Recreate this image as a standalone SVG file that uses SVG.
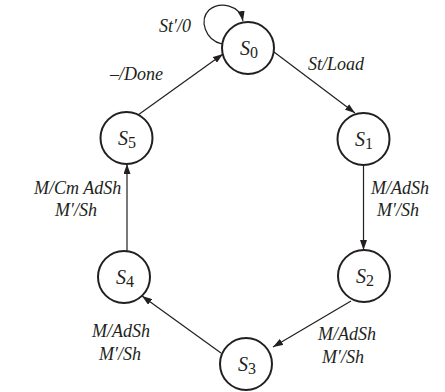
<svg xmlns="http://www.w3.org/2000/svg" width="445" height="392" viewBox="0 0 445 392">
<style>
.node circle{fill:#fff;stroke:#231f20;stroke-width:2}
.nm{font-family:"Liberation Serif",serif;font-size:20px;fill:#231f20}
.nm .s{font-style:italic}
.nm .sub{font-size:16px}
.edge{fill:none;stroke:#231f20;stroke-width:1.2}
.lbl{font-family:"Liberation Serif",serif;font-style:italic;font-size:18px;fill:#231f20}
</style>
<defs>
<marker id="ah" markerUnits="userSpaceOnUse" markerWidth="10" markerHeight="7" refX="10" refY="3.5" orient="auto">
<path d="M0,0 L10,3.5 L0,7 z" fill="#231f20"/>
</marker>
</defs>
<g id="connectors">
<path class="edge" d="M222,44 C205,40 199,20 209,10 C220,1 240,5 243,21" marker-end="url(#ah)"/>
<line class="edge" x1="274" y1="52" x2="355" y2="113" marker-end="url(#ah)"/>
<line class="edge" x1="363.5" y1="165" x2="363.5" y2="250" marker-end="url(#ah)"/>
<line class="edge" x1="351" y1="301" x2="273" y2="347" marker-end="url(#ah)"/>
<line class="edge" x1="221" y1="353" x2="142" y2="296" marker-end="url(#ah)"/>
<line class="edge" x1="127" y1="251" x2="127" y2="164" marker-end="url(#ah)"/>
<line class="edge" x1="138" y1="115" x2="223" y2="54" marker-end="url(#ah)"/>
</g>
<g id="labels">
<text class="lbl" x="159" y="32">St′/0</text>
<text class="lbl" x="308" y="70">St/Load</text>
<text class="lbl" x="110" y="80">–/Done</text>
<text class="lbl" x="371" y="194">M/AdSh</text>
<text class="lbl" x="377" y="216">M′/Sh</text>
<text class="lbl" x="34" y="194">M/Cm AdSh</text>
<text class="lbl" x="55" y="216">M′/Sh</text>
<text class="lbl" x="92" y="337">M/AdSh</text>
<text class="lbl" x="99" y="360">M′/Sh</text>
<text class="lbl" x="318" y="340">M/AdSh</text>
<text class="lbl" x="322" y="363">M′/Sh</text>
</g>
<g id="S0" class="node"><circle cx="248" cy="48" r="26"/><text class="nm" x="249" y="55" text-anchor="middle"><tspan class="s">S</tspan><tspan class="sub" dy="3">0</tspan></text></g>
<g id="S1" class="node"><circle cx="363.5" cy="139" r="26"/><text class="nm" x="364" y="146" text-anchor="middle"><tspan class="s">S</tspan><tspan class="sub" dy="3">1</tspan></text></g>
<g id="S2" class="node"><circle cx="364" cy="276" r="26"/><text class="nm" x="365" y="283" text-anchor="middle"><tspan class="s">S</tspan><tspan class="sub" dy="3">2</tspan></text></g>
<g id="S3" class="node"><circle cx="246" cy="364" r="26"/><text class="nm" x="247" y="371" text-anchor="middle"><tspan class="s">S</tspan><tspan class="sub" dy="3">3</tspan></text></g>
<g id="S4" class="node"><circle cx="124" cy="277" r="26"/><text class="nm" x="125" y="284" text-anchor="middle"><tspan class="s">S</tspan><tspan class="sub" dy="3">4</tspan></text></g>
<g id="S5" class="node"><circle cx="126.5" cy="138" r="26"/><text class="nm" x="127" y="145" text-anchor="middle"><tspan class="s">S</tspan><tspan class="sub" dy="3">5</tspan></text></g>
</svg>
